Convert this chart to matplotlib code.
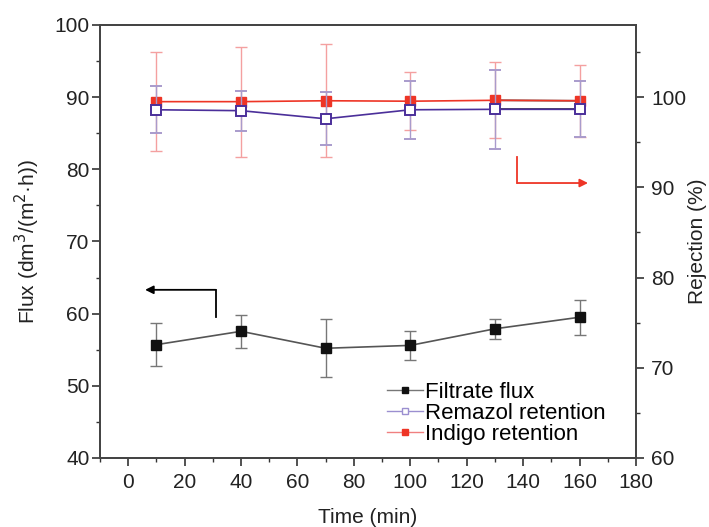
import matplotlib
matplotlib.use('Agg')
import matplotlib.pyplot as plt
from matplotlib.lines import Line2D
from matplotlib.ticker import MultipleLocator

plt.rcParams['font.family'] = ['Liberation Sans', 'DejaVu Sans']

# data
time = [10, 40, 70, 100, 130, 160]

flux = [55.7, 57.55, 55.2, 55.6, 57.9, 59.5]
flux_err = [3.0, 2.25, 4.0, 2.0, 1.4, 2.45]

remazol = [98.6, 98.5, 97.6, 98.6, 98.65, 98.65]
remazol_err = [2.6, 2.2, 2.95, 3.2, 4.4, 3.1]

indigo = [99.5, 99.5, 99.6, 99.55, 99.65, 99.6]
indigo_err = [5.5, 6.1, 6.25, 3.2, 4.2, 4.0]

black_c = '#111111'
blue_c = '#4b2f9a'
red_c = '#ee3526'

fig = plt.figure(figsize=(7.09, 5.27), dpi=100)
ax = fig.add_axes([0.141, 0.131, 0.756, 0.8216])
ax2 = ax.twinx()

# flux on left axis
ax.errorbar(time, flux, yerr=flux_err, color='#555555', ecolor='#777777',
            elinewidth=1.0, capsize=4, capthick=1.0, lw=1.2,
            marker='s', ms=7, mfc=black_c, mec=black_c, zorder=3)

# rejection on right axis
ax2.errorbar(time, indigo, yerr=indigo_err, color=red_c, ecolor='#f4a0a0',
             elinewidth=1.0, capsize=4, capthick=1.0, lw=1.2,
             marker='s', ms=7, mfc=red_c, mec=red_c, zorder=3)
ax2.errorbar(time, remazol, yerr=remazol_err, color=blue_c, ecolor='#a99bcc',
             elinewidth=1.0, capsize=4, capthick=1.0, lw=1.2,
             marker='s', ms=7, mfc='white', mec=blue_c, mew=1.4, zorder=4)
# last segments drawn black in the original
ax2.plot(time[4:], indigo[4:], color='#333333', lw=1.2, zorder=2)
ax2.plot(time[4:], remazol[4:], color='#333333', lw=1.2, zorder=2)

# direction arrows
ax.annotate('', xy=(6, 63.3), xytext=(31, 63.3),
            arrowprops=dict(arrowstyle='-|>', color='black', lw=1.3,
                            mutation_scale=12, shrinkA=0, shrinkB=0))
ax.plot([31, 31], [59.5, 63.3], color='black', lw=1.3)
ax.annotate('', xy=(163, 78.1), xytext=(138, 78.1),
            arrowprops=dict(arrowstyle='-|>', color=red_c, lw=1.3,
                            mutation_scale=12, shrinkA=0, shrinkB=0))
ax.plot([138, 138], [81.7, 78.1], color=red_c, lw=1.3)

ax.set_xlim(-10, 180)
ax.set_ylim(40, 100)
ax2.set_ylim(60, 108)

ax.xaxis.set_major_locator(MultipleLocator(20))
ax.xaxis.set_minor_locator(MultipleLocator(10))
ax.yaxis.set_major_locator(MultipleLocator(10))
ax.yaxis.set_minor_locator(MultipleLocator(5))
ax2.yaxis.set_major_locator(MultipleLocator(10))
ax2.yaxis.set_minor_locator(MultipleLocator(5))

for a in (ax, ax2):
    a.tick_params(which='major', direction='out', length=6, width=1.2,
                  labelsize=15, color='#333333', labelcolor='#222222')
    a.tick_params(which='minor', direction='out', length=3, width=1.0,
                  color='#333333')
    for s in a.spines.values():
        s.set_linewidth(1.3)
        s.set_color('#444444')
ax.tick_params(axis='y', which='major', pad=1.5)
ax.tick_params(axis='x', which='major', pad=5)
ax2.tick_params(axis='y', which='major', pad=5)

ax.set_xlabel('Time (min)', fontsize=15, color='#222222', labelpad=11)
ax.set_ylabel('Flux (dm$^3$/(m$^2$·h))', fontsize=15, color='#222222', labelpad=9)
ax2.set_ylabel('Rejection (%)', fontsize=15, color='#222222', labelpad=1)

handles = [
    Line2D([], [], color='#777777', lw=1.0, marker='s', ms=5, mfc=black_c, mec=black_c),
    Line2D([], [], color='#9b8fd0', lw=1.0, marker='s', ms=5, mfc='white', mec='#9b8fd0'),
    Line2D([], [], color='#f08080', lw=1.0, marker='s', ms=5, mfc=red_c, mec=red_c),
]
labels = ['Filtrate flux', 'Remazol retention', 'Indigo retention']
fig.legend(handles, labels, loc='upper left', bbox_to_anchor=(0.546, 0.275),
           frameon=False, fontsize=16, handlelength=1.6, handletextpad=0.1,
           labelspacing=0.0, borderpad=0.0, borderaxespad=0.0)

fig.savefig('out.png', dpi=100)
